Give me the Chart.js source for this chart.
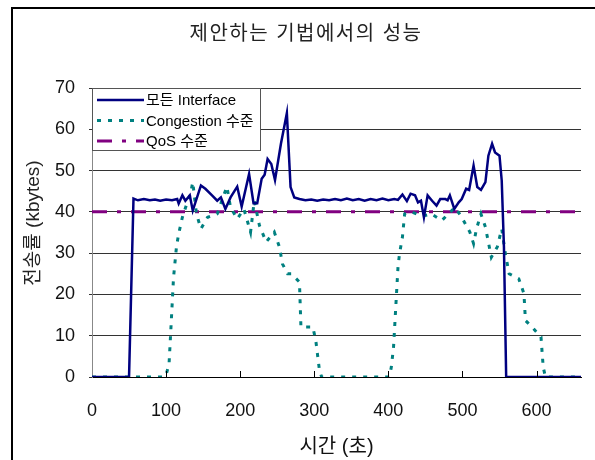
<!DOCTYPE html>
<html>
<head>
<meta charset="utf-8">
<script src="https://cdn.jsdelivr.net/npm/chart.js@4"></script>
<style>
  body { margin: 0; background: #fff; }
  canvas { display: block; }
</style>
</head>
<body>
<canvas id="perfChart" width="595" height="460"></canvas>
<script>
// time (sec) and rate (kbytes)
const ifaceTime = [0, 50, 56, 62, 70, 78, 85, 92, 100, 108, 115, 117, 122, 126, 132, 136, 147, 153, 162, 169, 174, 180, 187, 196, 202, 212, 218, 223, 229, 233, 237, 242, 247, 255, 263, 268, 273, 280, 288, 296, 304, 312, 320, 328, 336, 344, 352, 360, 368, 376, 384, 392, 400, 408, 413, 419, 425, 430, 436, 440, 444, 448, 453, 459, 465, 470, 477, 480, 483, 489, 495, 499, 505, 509, 515, 520, 525, 531, 535, 540, 544, 550, 553, 556, 559, 660];
const ifaceRate = [0, 0, 43.2, 42.8, 43.1, 42.8, 43.0, 42.7, 43.0, 42.8, 43.1, 42.0, 44.0, 42.7, 44.0, 40.3, 46.4, 45.6, 44.0, 42.7, 43.5, 40.7, 43.5, 46.1, 41.3, 49.2, 42.1, 42.1, 48.0, 49.0, 52.8, 51.6, 47.7, 56.5, 63.9, 46.0, 43.5, 43.1, 42.8, 43.0, 42.7, 43.0, 42.8, 43.1, 42.8, 43.2, 42.8, 43.1, 42.7, 43.1, 42.8, 43.2, 42.8, 43.1, 42.9, 44.2, 42.6, 44.4, 44.0, 42.3, 42.7, 38.7, 44.0, 42.7, 41.5, 43.1, 43.1, 42.8, 44.0, 40.7, 42.3, 43.1, 45.6, 45.3, 51.2, 46.0, 45.3, 47.2, 53.6, 56.5, 54.4, 53.6, 47.6, 31.5, 0, 0];

const congTime = [0, 97, 100, 104, 106, 108, 110, 114, 117, 122, 128, 133, 136, 141, 147, 156, 169, 176, 182, 187, 196, 205, 214, 219, 226, 235, 246, 253, 257, 264, 269, 280, 282, 298, 302, 307, 310, 400, 402, 404, 407, 409, 411, 413, 415, 419, 422, 431, 438, 449, 458, 472, 481, 490, 499, 510, 515, 519, 525, 531, 539, 547, 553, 558, 563, 576, 583, 585, 594, 606, 609, 612, 660];
const congRate = [0, 0, 0.5, 3.2, 10, 17, 24, 31.5, 34.7, 38.7, 42, 44.4, 47.2, 39.5, 35.9, 38.7, 39.5, 43.1, 46.1, 41.1, 38.3, 40.7, 35.1, 42.7, 36.7, 32.7, 35.1, 31.5, 27.4, 25, 25, 23, 12.1, 12.1, 8.9, 1.6, 0, 0, 0.5, 2.4, 7.3, 13.7, 20.2, 26.6, 29.8, 33.9, 39.5, 40, 39.5, 39.1, 39.5, 37.9, 39.5, 41.1, 38.7, 35.1, 32.3, 35.9, 39.5, 36.3, 29, 31.5, 35.9, 29.8, 25, 23.8, 20.2, 13.7, 12.1, 9.7, 2.4, 0, 0];

const qosTime = [0, 660];
const qosRate = [40, 40];

const seriesNames = ["모든 Interface", "Congestion 수준", "QoS 수준"];
const xTicks = [0, 100, 200, 300, 400, 500, 600];
const chartTitle = "제안하는 기법에서의 성능";
const yTitle = "전송률 (kbytes)";
const xTitle = "시간 (초)";

const pts = (xs, ys) => xs.map((x, i) => ({ x: x, y: ys[i] }));

const sans = '"Liberation Sans", "Noto Sans CJK KR", sans-serif';

const styles = [
  { color: "#000080", dash: [], width: 2.5 },
  { color: "#008080", dash: [4, 7], width: 3 },
  { color: "#800080", dash: [15, 10, 4, 10], width: 3 },
];

// frame, titles, inside tick marks, legend box
const extras = {
  id: "extras",
  beforeDraw(chart) {
    const c = chart.ctx;
    c.save();
    c.fillStyle = "#fff";
    c.fillRect(0, 0, chart.width, chart.height);
    c.strokeStyle = "#000";
    c.lineWidth = 2;
    c.strokeRect(12, 8, 700, 700);

    c.fillStyle = "#222";
    c.textAlign = "center";
    c.textBaseline = "middle";
    c.font = "20px " + sans;
    c.letterSpacing = "1.5px";
    c.fillText(chartTitle, 306, 34);
    c.letterSpacing = "0px";

    c.font = "19px " + sans;
    c.translate(34, 223);
    c.rotate(-Math.PI / 2);
    c.fillText(yTitle, 0, 0);
    c.restore();
  },
  afterDraw(chart) {
    const c = chart.ctx;
    const xs = chart.scales.x;
    const bottom = chart.chartArea.bottom;
    c.save();
    c.strokeStyle = "#000";
    c.lineWidth = 1;
    xTicks.slice(1).forEach(v => {
      const px = Math.round(xs.getPixelForValue(v)) + 0.5;
      c.beginPath();
      c.moveTo(px, bottom);
      c.lineTo(px, bottom - 6);
      c.stroke();
    });

    const left = chart.chartArea.left, top = chart.chartArea.top;
    c.fillStyle = "#fff";
    c.fillRect(left, top, 168, 62);
    c.strokeStyle = "#555";
    c.strokeRect(left + 0.5, top + 0.5, 168, 62);
    c.font = "15px " + sans;
    c.textBaseline = "middle";
    seriesNames.forEach((name, i) => {
      const y = top + 12 + i * 20.5;
      const s = styles[i];
      c.strokeStyle = s.color;
      c.lineWidth = s.width;
      c.setLineDash(s.dash);
      c.beginPath();
      c.moveTo(left + 5, y);
      c.lineTo(left + 52, y);
      c.stroke();
      c.setLineDash([]);
      c.fillStyle = "#000";
      c.fillText(name, left + 54, y + 1);
    });
    c.restore();
  }
};

const ctx = document.getElementById("perfChart").getContext("2d");

new Chart(ctx, {
  type: "line",
  data: {
    datasets: [
      { label: seriesNames[0], data: pts(ifaceTime, ifaceRate) },
      { label: seriesNames[1], data: pts(congTime, congRate) },
      { label: seriesNames[2], data: pts(qosTime, qosRate) },
    ].map((d, i) => Object.assign(d, {
      borderColor: styles[i].color,
      borderWidth: styles[i].width,
      borderDash: styles[i].dash,
      pointRadius: 0,
      tension: 0,
      fill: false,
    })),
  },
  options: {
    responsive: false,
    devicePixelRatio: 1,
    animation: false,
    layout: { padding: { left: 0, right: 14, top: 88, bottom: 0 } },
    plugins: {
      legend: { display: false },
      tooltip: { enabled: false },
      title: { display: false },
    },
    scales: {
      x: {
        type: "linear",
        min: 0,
        max: 660,
        afterBuildTicks: s => { s.ticks = xTicks.map(v => ({ value: v })); },
        afterFit: s => { s.height = 83; },
        grid: { display: false, drawTicks: false },
        border: { display: true, color: "#000", width: 1 },
        ticks: { color: "#111", padding: 23, maxRotation: 0, font: { family: sans, size: 18 } },
        title: {
          display: true,
          text: xTitle,
          color: "#111",
          font: { family: sans, size: 20, lineHeight: 1.2 },
          padding: { top: 0, bottom: 1 },
        },
      },
      y: {
        min: 0,
        max: 70,
        afterFit: s => { s.width = 92; },
        grid: { color: "#333", lineWidth: 1, tickLength: 3 },
        border: { display: true, color: "#888", width: 1 },
        ticks: { stepSize: 10, color: "#111", padding: 14, font: { family: sans, size: 18 } },
        title: { display: false },
      },
    },
  },
  plugins: [extras],
});
</script>
</body>
</html>
